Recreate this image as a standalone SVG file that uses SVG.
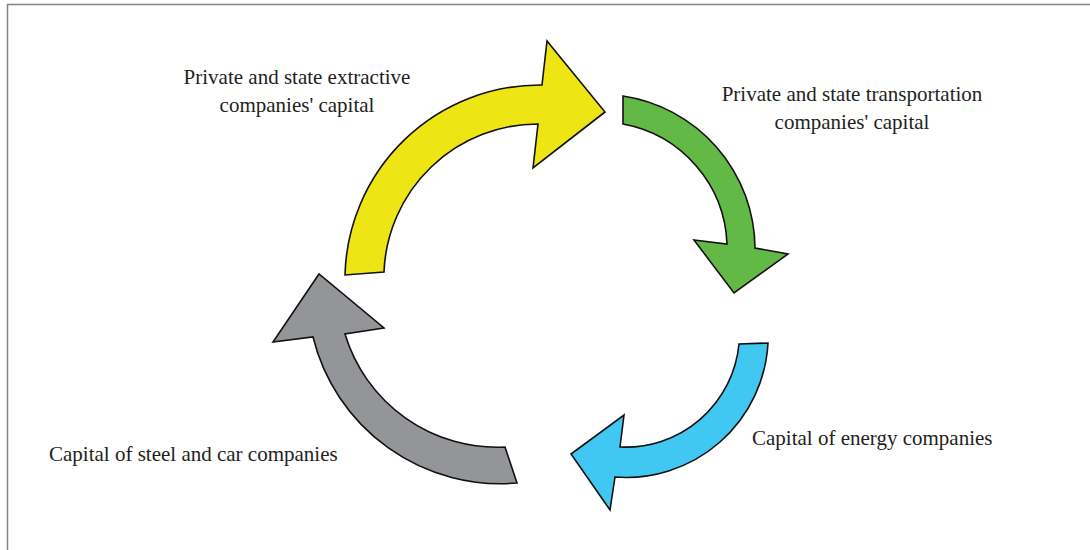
<svg xmlns="http://www.w3.org/2000/svg" width="1090" height="550" viewBox="0 0 1090 550">
<style>
.arrow{stroke:#111;stroke-width:1.6;stroke-linejoin:miter}
.lbl{font-family:"Liberation Serif","Times New Roman",serif;font-size:21px;fill:#231f20}
</style>
<rect width="1090" height="550" fill="#fff"/>
<path d="M7.5,550 V4.5 H1090" fill="none" stroke="#858585" stroke-width="1.5"/>
<g id="connectors">
<g id="yellow-arrow"><path class="arrow" fill="#ede614" d="M345,275 A195,195 0 0 1 542,85 L547,41 L605,112 L533,168 L538,124 A154,154 0 0 0 384,272 Z"/></g>
<g id="green-arrow"><path class="arrow" fill="#62b946" d="M623,96 A155,155 0 0 1 755,248 L788,254 L734,293 L694,240 L727,244 A127,127 0 0 0 623,124 Z"/></g>
<g id="blue-arrow"><path class="arrow" fill="#40c8f2" stroke-width="2" d="M768,343 A142,142 0 0 1 615,477 L610,510 L571,454 L624,415 L620,447 A114,114 0 0 0 739,344 Z"/></g>
<g id="gray-arrow"><path class="arrow" fill="#939598" stroke-width="2" d="M517,483 A193,193 0 0 1 313,337 L273,342 L319,274 L384,328 L345,334 A159,159 0 0 0 505,447 Z"/></g>
</g>
<g id="node-extractive"><text class="lbl" text-anchor="middle" x="297" y="84">Private and state extractive</text><text class="lbl" text-anchor="middle" x="297" y="112">companies' capital</text></g>
<g id="node-transport"><text class="lbl" text-anchor="middle" x="852" y="101">Private and state transportation</text><text class="lbl" text-anchor="middle" x="852" y="129">companies' capital</text></g>
<g id="node-energy"><text class="lbl" x="752" y="445">Capital of energy companies</text></g>
<g id="node-steel"><text class="lbl" x="49" y="461">Capital of steel and car companies</text></g>
</svg>
